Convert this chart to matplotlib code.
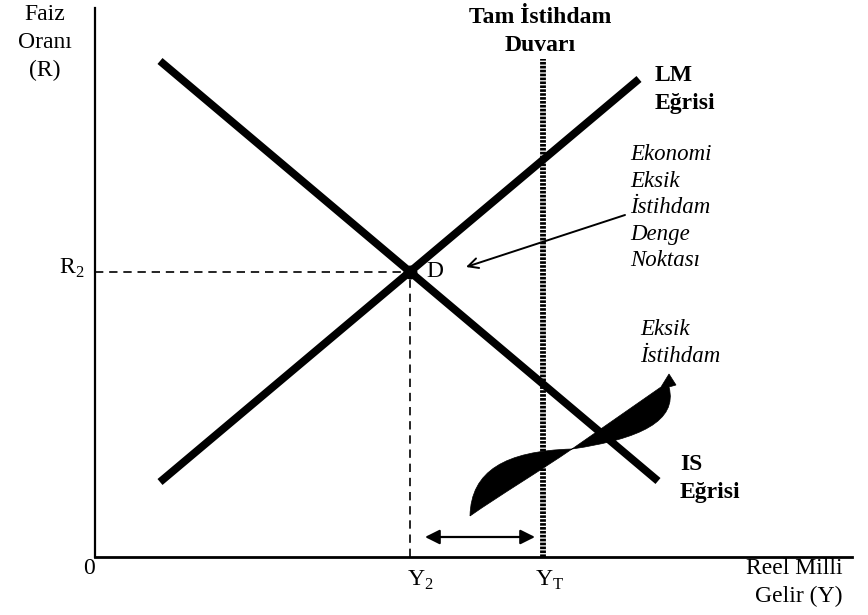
import numpy as np
import matplotlib
matplotlib.use("Agg")
import matplotlib.pyplot as plt
from matplotlib.path import Path
from matplotlib.patches import PathPatch

plt.rcParams['font.family'] = ['Liberation Serif', 'DejaVu Serif']
plt.rcParams['mathtext.fontset'] = 'custom'
plt.rcParams['mathtext.rm'] = 'Liberation Serif'

# IS / LM curves (straight lines, arbitrary units)
is_x = [6.5, 56.3]
is_y = [49.6, 7.6]
lm_x = [6.5, 54.4]
lm_y = [7.5, 47.8]

# full employment income (wall)
y_full = 44.8
wall_top = 49.8

# gap arrow (under-employment distance)
gap_x = [33.0, 44.0]
gap_y = 2.0

# twisted "eksik istihdam" arrow shape
sw_verts = [(37.5, 4.1), (37.6, 8.6), (41.0, 10.6), (47.7, 10.8),
            (54.5, 11.8), (58.3, 13.6), (57.4, 17.0),
            (58.1, 17.2), (57.4, 18.3), (56.6, 17.0),
            (47.7, 10.8),
            (44.5, 8.6), (40.5, 6.2), (37.5, 4.1)]
sw_codes = [Path.MOVETO, Path.CURVE4, Path.CURVE4, Path.CURVE4,
            Path.CURVE4, Path.CURVE4, Path.CURVE4,
            Path.LINETO, Path.LINETO, Path.LINETO,
            Path.LINETO,
            Path.CURVE4, Path.CURVE4, Path.CURVE4]

# equilibrium point D = intersection of IS and LM
m_is = (is_y[1] - is_y[0]) / (is_x[1] - is_x[0])
m_lm = (lm_y[1] - lm_y[0]) / (lm_x[1] - lm_x[0])
xd = (lm_y[0] - is_y[0] + m_is * is_x[0] - m_lm * lm_x[0]) / (m_is - m_lm)
yd = is_y[0] + m_is * (xd - is_x[0])

fig = plt.figure(figsize=(8.68, 6.15), dpi=100)
ax = fig.add_axes([95 / 868, 58 / 615, 757 / 868, 549 / 615])
ax.set_xlim(0, 75.7)
ax.set_ylim(0, 54.9)
ax.set_xticks([])
ax.set_yticks([])
for s in ['top', 'right']:
    ax.spines[s].set_visible(False)
ax.spines['left'].set_linewidth(1.6)
ax.spines['bottom'].set_linewidth(2.0)

# swoosh
ax.add_patch(PathPatch(Path(sw_verts, sw_codes), facecolor='black',
                       edgecolor='black', lw=0.5, zorder=2))

# IS & LM
ax.plot(is_x, is_y, color='black', lw=5.6, solid_capstyle='butt', zorder=3)
ax.plot(lm_x, lm_y, color='black', lw=5.6, solid_capstyle='butt', zorder=3)

# full employment wall
ax.plot([y_full, y_full], [0, wall_top], color='black', lw=4.2,
        linestyle=(0, (0.45, 0.22)), zorder=4)

# dashed guides to D
ax.plot([0, xd], [yd, yd], color='black', lw=1.2, linestyle=(0, (5, 3.5)), zorder=1)
ax.plot([xd, xd], [0, yd], color='black', lw=1.2, linestyle=(0, (5, 3.5)), zorder=1)
ax.plot([xd], [yd], 'o', color='black', ms=9, zorder=5)

# gap arrow
ax.annotate('', xy=(gap_x[1], gap_y), xytext=(gap_x[0], gap_y),
            arrowprops=dict(arrowstyle='<|-|>', color='black', lw=1.6,
                            mutation_scale=22, shrinkA=0, shrinkB=0))

# pointer to D
ax.annotate('', xy=(37.1, 29.0), xytext=(53.0, 34.2),
            arrowprops=dict(arrowstyle='->', color='black', lw=1.4,
                            mutation_scale=18, shrinkA=0, shrinkB=0))

kw = dict(clip_on=False, color='black')
ax.text(-5.0, 55.3, 'Faiz\nOranı\n(R)', ha='center', va='top', fontsize=17,
        linespacing=1.42, **kw)
ax.text(y_full - 0.3, 55.0, 'Tam İstihdam\nDuvarı', ha='center', va='top',
        fontsize=17, fontweight='bold', linespacing=1.42, **kw)
ax.text(56.0, 49.2, 'LM\nEğrisi', ha='left', va='top', fontsize=17,
        fontweight='bold', linespacing=1.42, **kw)
ax.text(53.5, 41.3, 'Ekonomi\nEksik\nİstihdam\nDenge\nNoktası', ha='left',
        va='top', fontsize=16.5, style='italic', linespacing=1.35, **kw)
ax.text(xd + 1.6, yd, 'D', ha='left', va='center', fontsize=17, **kw)
ax.text(-1.1, yd + 0.3, r'R$_\mathregular{2}$', ha='right', va='center', fontsize=17, **kw)
ax.text(54.5, 23.8, 'Eksik\nİstihdam', ha='left', va='top', fontsize=16.5,
        style='italic', linespacing=1.38, **kw)
ax.text(58.5, 10.3, 'IS\nEğrisi', ha='left', va='top', fontsize=17,
        fontweight='bold', linespacing=1.42, **kw)
ax.text(-0.6, -0.1, '0', ha='center', va='top', fontsize=17, **kw)
ax.text(xd - 0.3, -2.3, r'Y$_\mathregular{2}$', ha='left', va='center', fontsize=17, **kw)
ax.text(y_full - 0.8, -2.3, r'Y$_\mathregular{T}$', ha='left', va='center', fontsize=17, **kw)
ax.text(74.8, -0.1, 'Reel Milli\nGelir (Y)', ha='right', va='top', fontsize=17,
        linespacing=1.42, **kw)

fig.savefig('out.png', dpi=100)
